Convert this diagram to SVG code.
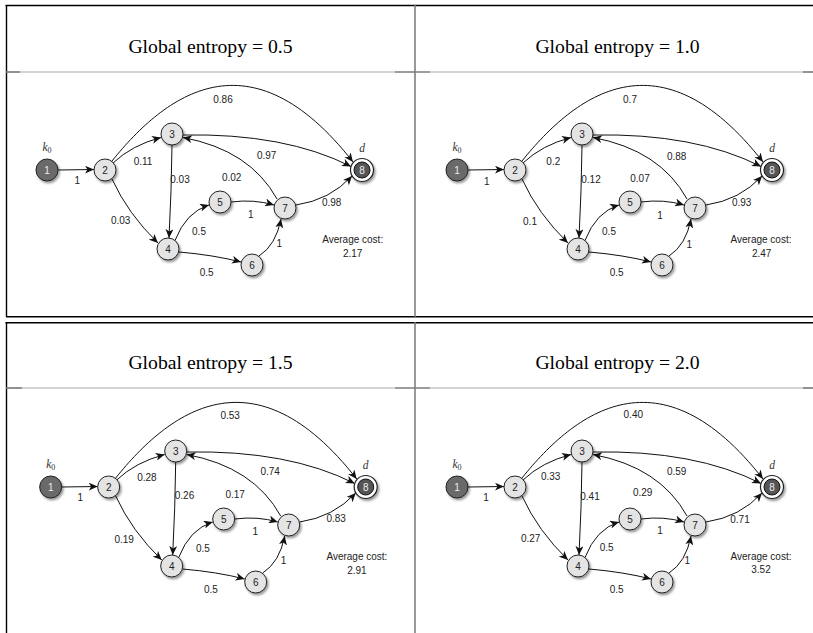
<svg xmlns="http://www.w3.org/2000/svg" width="813" height="633" viewBox="0 0 813 633">
<style>
.title{font-family:"Liberation Serif","Times New Roman",serif;font-size:19.7px;fill:#000;text-anchor:middle}
.lbl{font-family:"Liberation Sans",Arial,sans-serif;font-size:10px;fill:#222;text-anchor:middle}
.nl{font-family:"Liberation Sans",Arial,sans-serif;font-size:10px;fill:#222;text-anchor:middle}
.nld{font-family:"Liberation Sans",Arial,sans-serif;font-size:10px;fill:#eee;text-anchor:middle}
.it{font-family:"Liberation Serif","Times New Roman",serif;font-style:italic;font-size:11.5px;fill:#333;text-anchor:middle}
.e{fill:none;stroke:#111;stroke-width:1;marker-end:url(#ah)}
.n{fill:#e4e4e4;stroke:#222;stroke-width:1;filter:url(#sh)}
.nd{fill:#6a6a6a;stroke:#222;stroke-width:1;filter:url(#sh)}
.ring{fill:#fff;stroke:#222;stroke-width:1.2;filter:url(#sh)}
.inner{fill:#555;stroke:#111;stroke-width:1}
.bk{stroke:#000;stroke-width:1.4;fill:none}
.gr{stroke:#777;stroke-width:1.5;fill:none}
.hl{stroke:#aaa;stroke-width:1.2;fill:none}
.hd{stroke:#666;stroke-width:1.2;fill:none}
</style>
<defs>
<marker id="ah" markerUnits="userSpaceOnUse" markerWidth="10" markerHeight="8" refX="9" refY="4" orient="auto">
<path d="M0,0 L9,4 L0,8 L2.5,4 z" fill="#111"/>
</marker>
<filter id="sh" x="-50%" y="-50%" width="200%" height="200%">
<feDropShadow dx="1.5" dy="2" stdDeviation="1.3" flood-color="#000" flood-opacity="0.4"/>
</filter>
</defs>
<rect x="0" y="0" width="813" height="633" fill="#fff"/>

<g id="table">
<line class="bk" x1="5.5" y1="5.5" x2="813" y2="5.5"/>
<line class="bk" x1="6.5" y1="5" x2="6.5" y2="317"/>
<line class="bk" x1="6" y1="316.7" x2="813" y2="316.7"/>
<line class="gr" x1="415" y1="5" x2="415" y2="317"/>
<line class="hl" x1="6" y1="72" x2="813" y2="72"/>
<line class="hd" x1="6" y1="72" x2="20" y2="72"/>
<line class="hd" x1="395" y1="72" x2="430" y2="72"/>
<line class="hd" x1="803" y1="72" x2="813" y2="72"/>
<line class="bk" x1="5.5" y1="322.7" x2="813" y2="322.7"/>
<line class="bk" x1="6.5" y1="322" x2="6.5" y2="633"/>
<line class="gr" x1="415" y1="322" x2="415" y2="633"/>
<line class="hl" x1="6" y1="388" x2="813" y2="388"/>
<line class="hd" x1="6" y1="388" x2="22" y2="388"/>
<line class="hd" x1="395" y1="388" x2="430" y2="388"/>
<line class="hd" x1="803" y1="388" x2="813" y2="388"/>
</g>

<g id="titles">
<text class="title" x="210.5" y="52.5">Global entropy = 0.5</text>
<text class="title" x="617.5" y="52.5">Global entropy = 1.0</text>
<text class="title" x="210.5" y="369">Global entropy = 1.5</text>
<text class="title" x="617.5" y="369">Global entropy = 2.0</text>
</g>

<!-- Panel 1 -->
<g id="panel1">
<g id="p1-edges">
<path class="e" d="M58,170 L94,169.5"/>
<path class="e" d="M113,163 Q132,145 161,137.5"/>
<path class="e" d="M112,161 C165,95 250,30 353,162"/>
<path class="e" d="M183,135 Q285,133 351,166.5"/>
<path class="e" d="M172,145 Q171.5,190 169,238"/>
<path class="e" d="M277,199 Q250,150 183,137.5"/>
<path class="e" d="M112,179 Q128,214 158,243"/>
<path class="e" d="M175,240.5 Q186,212 209,205"/>
<path class="e" d="M231,202 Q254,199 274,205"/>
<path class="e" d="M179,252 Q214,255 241,262"/>
<path class="e" d="M259,256 Q276,245 281,219"/>
<path class="e" d="M296,205 Q330,200 352,176"/>
<text class="lbl" x="77.3" y="184">1</text>
<text class="lbl" x="223" y="102.5">0.86</text>
<text class="lbl" x="143" y="164.5">0.11</text>
<text class="lbl" x="266.7" y="158.5">0.97</text>
<text class="lbl" x="180" y="182.8">0.03</text>
<text class="lbl" x="231.7" y="180.5">0.02</text>
<text class="lbl" x="120.7" y="224.2">0.03</text>
<text class="lbl" x="250.7" y="217.5">1</text>
<text class="lbl" x="331.7" y="205.5">0.98</text>
<text class="lbl" x="199" y="234.5">0.5</text>
<text class="lbl" x="279.3" y="246.8">1</text>
<text class="lbl" x="206.7" y="276.2">0.5</text>
<text class="lbl" x="352.7" y="242.8">Average cost:</text>
<text class="lbl" x="352.7" y="256.8">2.17</text>
</g>
<g id="p1-n1"><circle class="nd" cx="47" cy="170" r="11"/><text class="nld" x="47" y="173.5">1</text><text class="it" x="47" y="151">k<tspan font-style="normal" font-size="8" dy="2">0</tspan></text></g>
<g id="p1-n2"><circle class="n" cx="105" cy="170" r="11"/><text class="nl" x="105" y="173.5">2</text></g>
<g id="p1-n3"><circle class="n" cx="172" cy="134" r="11"/><text class="nl" x="172" y="137.5">3</text></g>
<g id="p1-n4"><circle class="n" cx="168" cy="249" r="11"/><text class="nl" x="168" y="252.5">4</text></g>
<g id="p1-n5"><circle class="n" cx="220" cy="202" r="11"/><text class="nl" x="220" y="205.5">5</text></g>
<g id="p1-n6"><circle class="n" cx="252" cy="265" r="11"/><text class="nl" x="252" y="268.5">6</text></g>
<g id="p1-n7"><circle class="n" cx="285" cy="208" r="11"/><text class="nl" x="285" y="211.5">7</text></g>
<g id="p1-n8"><circle class="ring" cx="362" cy="170" r="11.5"/><circle class="inner" cx="362" cy="170" r="8"/><text class="nld" x="362" y="173.5">8</text><text class="it" x="362" y="152">d</text></g>
</g>

<!-- Panel 2 -->
<g id="panel2" transform="translate(410,0)">
<g id="p2-edges">
<path class="e" d="M58,170 L94,169.5"/>
<path class="e" d="M113,163 Q132,145 161,137.5"/>
<path class="e" d="M112,161 C165,95 250,30 353,162"/>
<path class="e" d="M183,135 Q285,133 351,166.5"/>
<path class="e" d="M172,145 Q171.5,190 169,238"/>
<path class="e" d="M277,199 Q250,150 183,137.5"/>
<path class="e" d="M112,179 Q128,214 158,243"/>
<path class="e" d="M175,240.5 Q186,212 209,205"/>
<path class="e" d="M231,202 Q254,199 274,205"/>
<path class="e" d="M179,252 Q214,255 241,262"/>
<path class="e" d="M259,256 Q276,245 281,219"/>
<path class="e" d="M296,205 Q330,200 352,176"/>
<text class="lbl" x="76.7" y="184.5">1</text>
<text class="lbl" x="220" y="102.5">0.7</text>
<text class="lbl" x="143.3" y="165.2">0.2</text>
<text class="lbl" x="266.7" y="159.5">0.88</text>
<text class="lbl" x="181" y="182.8">0.12</text>
<text class="lbl" x="230" y="181.5">0.07</text>
<text class="lbl" x="120" y="224.5">0.1</text>
<text class="lbl" x="250" y="218.5">1</text>
<text class="lbl" x="331.7" y="206.2">0.93</text>
<text class="lbl" x="199" y="234.5">0.5</text>
<text class="lbl" x="279.3" y="247.5">1</text>
<text class="lbl" x="206.7" y="276.2">0.5</text>
<text class="lbl" x="351" y="242.5">Average cost:</text>
<text class="lbl" x="351.7" y="256.8">2.47</text>
</g>
<g id="p2-n1"><circle class="nd" cx="47" cy="170" r="11"/><text class="nld" x="47" y="173.5">1</text><text class="it" x="47" y="151">k<tspan font-style="normal" font-size="8" dy="2">0</tspan></text></g>
<g id="p2-n2"><circle class="n" cx="105" cy="170" r="11"/><text class="nl" x="105" y="173.5">2</text></g>
<g id="p2-n3"><circle class="n" cx="172" cy="134" r="11"/><text class="nl" x="172" y="137.5">3</text></g>
<g id="p2-n4"><circle class="n" cx="168" cy="249" r="11"/><text class="nl" x="168" y="252.5">4</text></g>
<g id="p2-n5"><circle class="n" cx="220" cy="202" r="11"/><text class="nl" x="220" y="205.5">5</text></g>
<g id="p2-n6"><circle class="n" cx="252" cy="265" r="11"/><text class="nl" x="252" y="268.5">6</text></g>
<g id="p2-n7"><circle class="n" cx="285" cy="208" r="11"/><text class="nl" x="285" y="211.5">7</text></g>
<g id="p2-n8"><circle class="ring" cx="362" cy="170" r="11.5"/><circle class="inner" cx="362" cy="170" r="8"/><text class="nld" x="362" y="173.5">8</text><text class="it" x="362" y="152">d</text></g>
</g>

<!-- Panel 3 -->
<g id="panel3" transform="translate(3.7,317)">
<g id="p3-edges">
<path class="e" d="M58,170 L94,169.5"/>
<path class="e" d="M113,163 Q132,145 161,137.5"/>
<path class="e" d="M112,161 C165,95 250,30 353,162"/>
<path class="e" d="M183,135 Q285,133 351,166.5"/>
<path class="e" d="M172,145 Q171.5,190 169,238"/>
<path class="e" d="M277,199 Q250,150 183,137.5"/>
<path class="e" d="M112,179 Q128,214 158,243"/>
<path class="e" d="M175,240.5 Q186,212 209,205"/>
<path class="e" d="M231,202 Q254,199 274,205"/>
<path class="e" d="M179,252 Q214,255 241,262"/>
<path class="e" d="M259,256 Q276,245 281,219"/>
<path class="e" d="M296,205 Q330,200 352,176"/>
<text class="lbl" x="76.5" y="183.8">1</text>
<text class="lbl" x="226.5" y="102.2">0.53</text>
<text class="lbl" x="143.2" y="163.8">0.28</text>
<text class="lbl" x="266.5" y="157.5">0.74</text>
<text class="lbl" x="180.8" y="182.2">0.26</text>
<text class="lbl" x="231.5" y="180.5">0.17</text>
<text class="lbl" x="120.5" y="225.5">0.19</text>
<text class="lbl" x="251.5" y="217.5">1</text>
<text class="lbl" x="332.5" y="204.8">0.83</text>
<text class="lbl" x="199.2" y="234.8">0.5</text>
<text class="lbl" x="279.8" y="247.2">1</text>
<text class="lbl" x="207.2" y="275.8">0.5</text>
<text class="lbl" x="353.2" y="243.2">Average cost:</text>
<text class="lbl" x="353.2" y="256.5">2.91</text>
</g>
<g id="p3-n1"><circle class="nd" cx="47" cy="170" r="11"/><text class="nld" x="47" y="173.5">1</text><text class="it" x="47" y="151">k<tspan font-style="normal" font-size="8" dy="2">0</tspan></text></g>
<g id="p3-n2"><circle class="n" cx="105" cy="170" r="11"/><text class="nl" x="105" y="173.5">2</text></g>
<g id="p3-n3"><circle class="n" cx="172" cy="134" r="11"/><text class="nl" x="172" y="137.5">3</text></g>
<g id="p3-n4"><circle class="n" cx="168" cy="249" r="11"/><text class="nl" x="168" y="252.5">4</text></g>
<g id="p3-n5"><circle class="n" cx="220" cy="202" r="11"/><text class="nl" x="220" y="205.5">5</text></g>
<g id="p3-n6"><circle class="n" cx="252" cy="265" r="11"/><text class="nl" x="252" y="268.5">6</text></g>
<g id="p3-n7"><circle class="n" cx="285" cy="208" r="11"/><text class="nl" x="285" y="211.5">7</text></g>
<g id="p3-n8"><circle class="ring" cx="362" cy="170" r="11.5"/><circle class="inner" cx="362" cy="170" r="8"/><text class="nld" x="362" y="173.5">8</text><text class="it" x="362" y="152">d</text></g>
</g>

<!-- Panel 4 -->
<g id="panel4" transform="translate(410,317)">
<g id="p4-edges">
<path class="e" d="M58,170 L94,169.5"/>
<path class="e" d="M113,163 Q132,145 161,137.5"/>
<path class="e" d="M112,161 C165,95 250,30 353,162"/>
<path class="e" d="M183,135 Q285,133 351,166.5"/>
<path class="e" d="M172,145 Q171.5,190 169,238"/>
<path class="e" d="M277,199 Q250,150 183,137.5"/>
<path class="e" d="M112,179 Q128,214 158,243"/>
<path class="e" d="M175,240.5 Q186,212 209,205"/>
<path class="e" d="M231,202 Q254,199 274,205"/>
<path class="e" d="M179,252 Q214,255 241,262"/>
<path class="e" d="M259,256 Q276,245 281,219"/>
<path class="e" d="M296,205 Q330,200 352,176"/>
<text class="lbl" x="76" y="184.2">1</text>
<text class="lbl" x="223.3" y="100.5">0.40</text>
<text class="lbl" x="140.7" y="163.2">0.33</text>
<text class="lbl" x="266.7" y="157.5">0.59</text>
<text class="lbl" x="180" y="183.2">0.41</text>
<text class="lbl" x="232.7" y="179.2">0.29</text>
<text class="lbl" x="120.7" y="224.8">0.27</text>
<text class="lbl" x="250" y="216.5">1</text>
<text class="lbl" x="330" y="205.5">0.71</text>
<text class="lbl" x="196.7" y="234.2">0.5</text>
<text class="lbl" x="277.3" y="246.5">1</text>
<text class="lbl" x="206.7" y="275.8">0.5</text>
<text class="lbl" x="351" y="243.2">Average cost:</text>
<text class="lbl" x="351" y="255.8">3.52</text>
</g>
<g id="p4-n1"><circle class="nd" cx="47" cy="170" r="11"/><text class="nld" x="47" y="173.5">1</text><text class="it" x="47" y="151">k<tspan font-style="normal" font-size="8" dy="2">0</tspan></text></g>
<g id="p4-n2"><circle class="n" cx="105" cy="170" r="11"/><text class="nl" x="105" y="173.5">2</text></g>
<g id="p4-n3"><circle class="n" cx="172" cy="134" r="11"/><text class="nl" x="172" y="137.5">3</text></g>
<g id="p4-n4"><circle class="n" cx="168" cy="249" r="11"/><text class="nl" x="168" y="252.5">4</text></g>
<g id="p4-n5"><circle class="n" cx="220" cy="202" r="11"/><text class="nl" x="220" y="205.5">5</text></g>
<g id="p4-n6"><circle class="n" cx="252" cy="265" r="11"/><text class="nl" x="252" y="268.5">6</text></g>
<g id="p4-n7"><circle class="n" cx="285" cy="208" r="11"/><text class="nl" x="285" y="211.5">7</text></g>
<g id="p4-n8"><circle class="ring" cx="362" cy="170" r="11.5"/><circle class="inner" cx="362" cy="170" r="8"/><text class="nld" x="362" y="173.5">8</text><text class="it" x="362" y="152">d</text></g>
</g>
</svg>
